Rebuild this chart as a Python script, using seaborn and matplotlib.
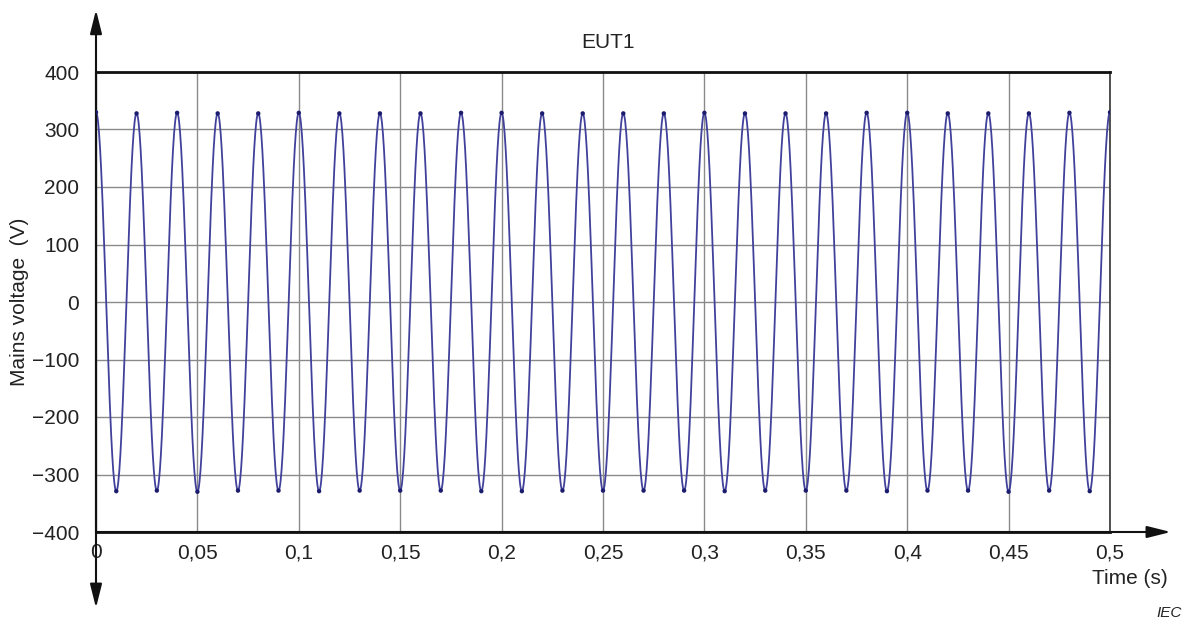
import numpy as np
import pandas as pd
import matplotlib
matplotlib.use("Agg")
import matplotlib.pyplot as plt
import seaborn as sns

# ---- data ----
# extremum times (s): positive peaks every 0.02 s from 0, troughs in between
peak_times = [0.00, 0.02, 0.04, 0.06, 0.08, 0.10, 0.12, 0.14, 0.16, 0.18, 0.20, 0.22, 0.24,
              0.26, 0.28, 0.30, 0.32, 0.34, 0.36, 0.38, 0.40, 0.42, 0.44, 0.46, 0.48, 0.50]
peak_values = [330, 328, 329, 328, 328, 329, 328, 328, 328, 329, 329, 328, 328,
               328, 328, 329, 328, 328, 328, 329, 329, 328, 328, 328, 329, 330]
trough_times = [0.01, 0.03, 0.05, 0.07, 0.09, 0.11, 0.13, 0.15, 0.17, 0.19, 0.21, 0.23, 0.25,
                0.27, 0.29, 0.31, 0.33, 0.35, 0.37, 0.39, 0.41, 0.43, 0.45, 0.47, 0.49]
trough_values = [-329, -328, -330, -328, -328, -329, -328, -328, -328, -329, -329, -328, -328,
                 -328, -328, -329, -328, -328, -328, -329, -328, -328, -330, -328, -329]

x_ticks = [0, 0.05, 0.1, 0.15, 0.2, 0.25, 0.3, 0.35, 0.4, 0.45, 0.5]
x_labels = ["0", "0,05", "0,1", "0,15", "0,2", "0,25", "0,3", "0,35", "0,4", "0,45", "0,5"]
y_ticks = [-400, -300, -200, -100, 0, 100, 200, 300, 400]
y_labels = ["\u2212400", "\u2212300", "\u2212200", "\u2212100", "0", "100", "200", "300", "400"]

# merge extrema in time order and trace the waveform between them (half-cosine shape)
ext = sorted(list(zip(peak_times, peak_values)) + list(zip(trough_times, trough_values)))
ts, vs = [], []
for (t0, a), (t1, b) in zip(ext[:-1], ext[1:]):
    s = np.linspace(0, 1, 40, endpoint=False)
    ts.extend(t0 + (t1 - t0) * s)
    vs.extend((a + b) / 2 + (a - b) / 2 * np.cos(np.pi * s))
ts.append(ext[-1][0]); vs.append(ext[-1][1])
wave = pd.DataFrame({"t": ts, "v": vs})
extrema = pd.DataFrame({"t": [e[0] for e in ext], "v": [e[1] for e in ext]})

# ---- figure ----
sns.set_theme(style="white")
plt.rcParams["font.family"] = ["Liberation Sans", "DejaVu Sans"]

fig = plt.figure(figsize=(11.9, 6.26), dpi=100)
ax = fig.add_axes([96 / 1190, 1 - 532 / 626, 1014 / 1190, 460 / 626])

line_color = "#41419c"
sns.lineplot(data=wave, x="t", y="v", ax=ax, color=line_color, linewidth=1.3, zorder=3)
sns.scatterplot(data=extrema, x="t", y="v", ax=ax, color="#1c1c6e", s=10,
                edgecolor="none", zorder=4)

ax.set_xlim(0, 0.5)
ax.set_ylim(-400, 400)
ax.set_xticks(x_ticks)
ax.set_xticklabels(x_labels)
ax.set_yticks(y_ticks)
ax.set_yticklabels(y_labels)
ax.grid(True, color="#8a8a8a", linewidth=1.0)
ax.tick_params(axis="both", labelsize=15, colors="#222222", direction="in",
               length=4, width=1, pad=8)
ax.tick_params(axis="y", pad=12)
ax.set_xlabel("")
ax.set_ylabel("")

for side in ["top", "bottom"]:
    ax.spines[side].set_color("#111111")
    ax.spines[side].set_linewidth(2.0)
ax.spines["left"].set_color("#111111")
ax.spines["left"].set_linewidth(1.5)
ax.spines["right"].set_color("#333333")
ax.spines["right"].set_linewidth(1.2)

arrow_kw = dict(arrowstyle="-|>,head_width=0.3,head_length=1.2", color="#111111",
                lw=1.5, shrinkA=0, shrinkB=0)
ax.annotate("", xy=(0, 1.135), xytext=(0, 0), xycoords="axes fraction",
            textcoords="axes fraction", arrowprops=arrow_kw, annotation_clip=False)
ax.annotate("", xy=(0, -0.165), xytext=(0, 0), xycoords="axes fraction",
            textcoords="axes fraction", arrowprops=arrow_kw, annotation_clip=False)
ax.annotate("", xy=(1.06, 0), xytext=(0, 0), xycoords="axes fraction",
            textcoords="axes fraction", arrowprops=arrow_kw, annotation_clip=False)

fig.text(608 / 1190, 1 - 42 / 626, "EUT1", ha="center", va="center", fontsize=15, color="#222222")
fig.text(20 / 1190, 1 - 302 / 626, "Mains voltage  (V)", ha="center", va="center",
         rotation=90, fontsize=15, color="#222222")
fig.text(1130 / 1190, 1 - 578 / 626, "Time (s)", ha="center", va="center",
         fontsize=15, color="#222222")
fig.text(1169 / 1190, 1 - 613 / 626, "IEC", ha="center", va="center",
         fontsize=11, style="italic", color="#222222")

fig.savefig("out.png", dpi=100)
